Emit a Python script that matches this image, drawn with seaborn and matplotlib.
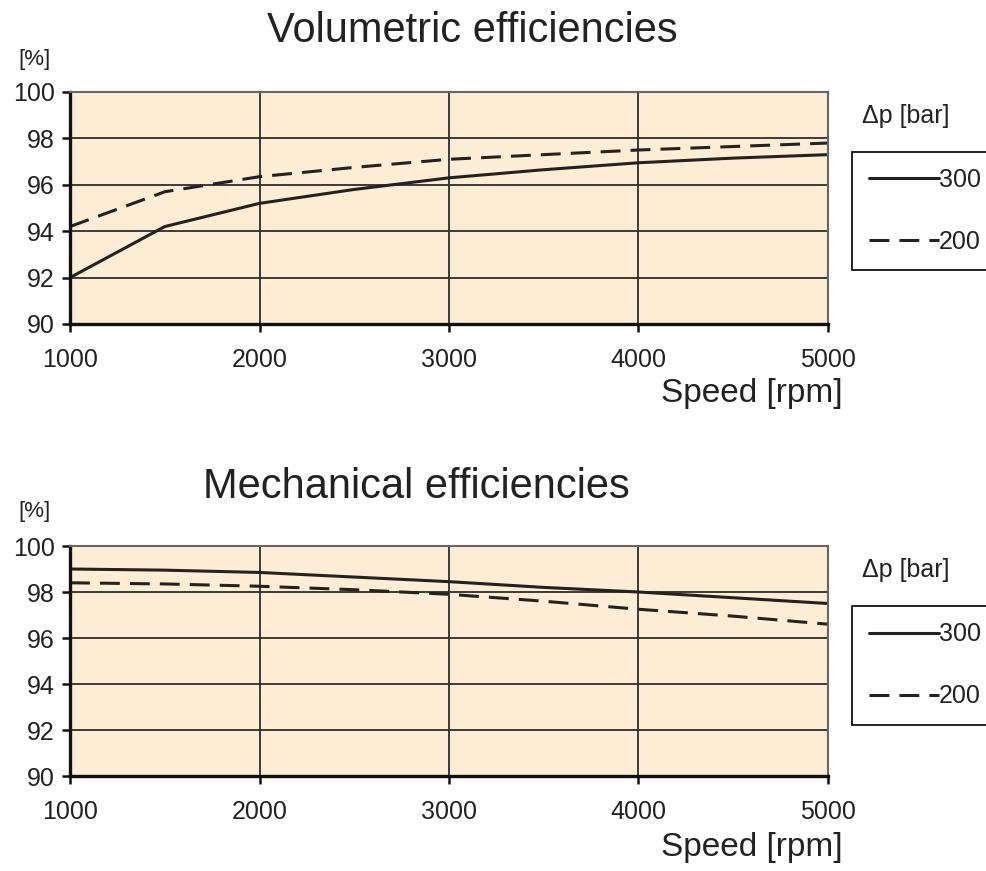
import numpy as np
import pandas as pd
import matplotlib
matplotlib.use("Agg")
import matplotlib.pyplot as plt
import seaborn as sns

# Speed axis (rpm) and pressure-difference series
speed = [1000, 1500, 2000, 2500, 3000, 3500, 4000, 4500, 5000]
pressures = ["300", "200"]

# Volumetric efficiency [%]
vol_300 = [92.0, 94.2, 95.2, 95.8, 96.3, 96.65, 96.95, 97.15, 97.3]
vol_200 = [94.2, 95.7, 96.35, 96.75, 97.1, 97.3, 97.5, 97.65, 97.8]

# Mechanical efficiency [%]
mech_300 = [99.0, 98.95, 98.85, 98.65, 98.45, 98.2, 98.0, 97.75, 97.5]
mech_200 = [98.4, 98.35, 98.25, 98.1, 97.9, 97.6, 97.25, 96.95, 96.6]

x_ticks = [1000, 2000, 3000, 4000, 5000]
y_ticks = [90, 92, 94, 96, 98, 100]

titles = ["Volumetric efficiencies", "Mechanical efficiencies"]
x_label = "Speed [rpm]"
y_unit = "[%]"
legend_title = "\u0394p [bar]"


def long_frame(s300, s200):
    return pd.DataFrame({
        "speed": speed * 2,
        "eff": s300 + s200,
        "dp": ["300"] * len(speed) + ["200"] * len(speed),
    })


sns.set_theme(style="white")
plt.rcParams["font.family"] = ["Liberation Sans", "DejaVu Sans"]

W, H = 987, 871
fig = plt.figure(figsize=(W / 100, H / 100), dpi=100)

bg = "#FDEDD4"
ink = "#222222"
grid_c = "#2e2e2e"

# axes rectangles in pixels: (left, top, right, bottom)
rects = [(70, 92, 828, 324), (70, 546, 828, 776)]
title_pos = [(472, 42), (416, 498)]
unit_pos = [(35, 59), (35, 512)]
xlabel_y = [393, 847]
legend_top = [152, 606]
legend_title_y = [116, 570]

series = [(vol_300, vol_200), (mech_300, mech_200)]

for i, (l, t, r, b) in enumerate(rects):
    ax = fig.add_axes([l / W, 1 - b / H, (r - l) / W, (b - t) / H])
    ax.set_facecolor(bg)
    df = long_frame(*series[i])
    sns.lineplot(
        data=df, x="speed", y="eff", style="dp", style_order=pressures,
        dashes={"300": "", "200": (6.5, 3.3)}, color=ink, linewidth=2.2,
        ax=ax, legend=True,
    )
    ax.set_xlim(1000, 5000)
    ax.set_ylim(90, 100)
    ax.set_xticks(x_ticks)
    ax.set_yticks(y_ticks)
    ax.set_xticklabels([str(v) for v in x_ticks])
    ax.set_yticklabels([str(v) for v in y_ticks])
    ax.set_xlabel("")
    ax.set_ylabel("")
    ax.grid(True, color=grid_c, linewidth=1.3)
    ax.set_axisbelow(True)
    ax.tick_params(axis="both", direction="out", length=6, width=1.8,
                   color="#111111", labelsize=18, labelcolor=ink)
    ax.tick_params(axis="x", pad=11)
    ax.tick_params(axis="y", pad=5)
    ax.tick_params(bottom=True, left=True)
    for side in ("left", "bottom"):
        ax.spines[side].set_color("#111111")
        ax.spines[side].set_linewidth(2.4)
    for side in ("top", "right"):
        ax.spines[side].set_color("#666666")
        ax.spines[side].set_linewidth(1.5)

    handles, labels = ax.get_legend_handles_labels()
    ax.get_legend().remove()
    leg_y = (b - legend_top[i]) / (b - t)
    leg = ax.legend(
        handles, labels, loc="upper left",
        bbox_to_anchor=(1.032, leg_y),
        bbox_transform=ax.transAxes, fontsize=18, frameon=True,
        fancybox=False, edgecolor="#111111", facecolor="white",
        framealpha=1, handlelength=2.8, handletextpad=0.0,
        labelspacing=1.52, borderpad=0.65, borderaxespad=0,
    )
    leg.get_frame().set_linewidth(1.3)
    for txt in leg.get_texts():
        txt.set_color(ink)

    fig.text(title_pos[i][0] / W, 1 - title_pos[i][1] / H, titles[i],
             ha="center", va="baseline", fontsize=30, color=ink)
    fig.text(unit_pos[i][0] / W, 1 - unit_pos[i][1] / H, y_unit,
             ha="center", va="center", fontsize=16, color=ink)
    fig.text(843 / W, 1 - xlabel_y[i] / H, x_label,
             ha="right", va="center", fontsize=24, color=ink)
    fig.text(862 / W, 1 - legend_title_y[i] / H, legend_title,
             ha="left", va="center", fontsize=18, color=ink)

fig.savefig("out.png", dpi=100, facecolor="white")
